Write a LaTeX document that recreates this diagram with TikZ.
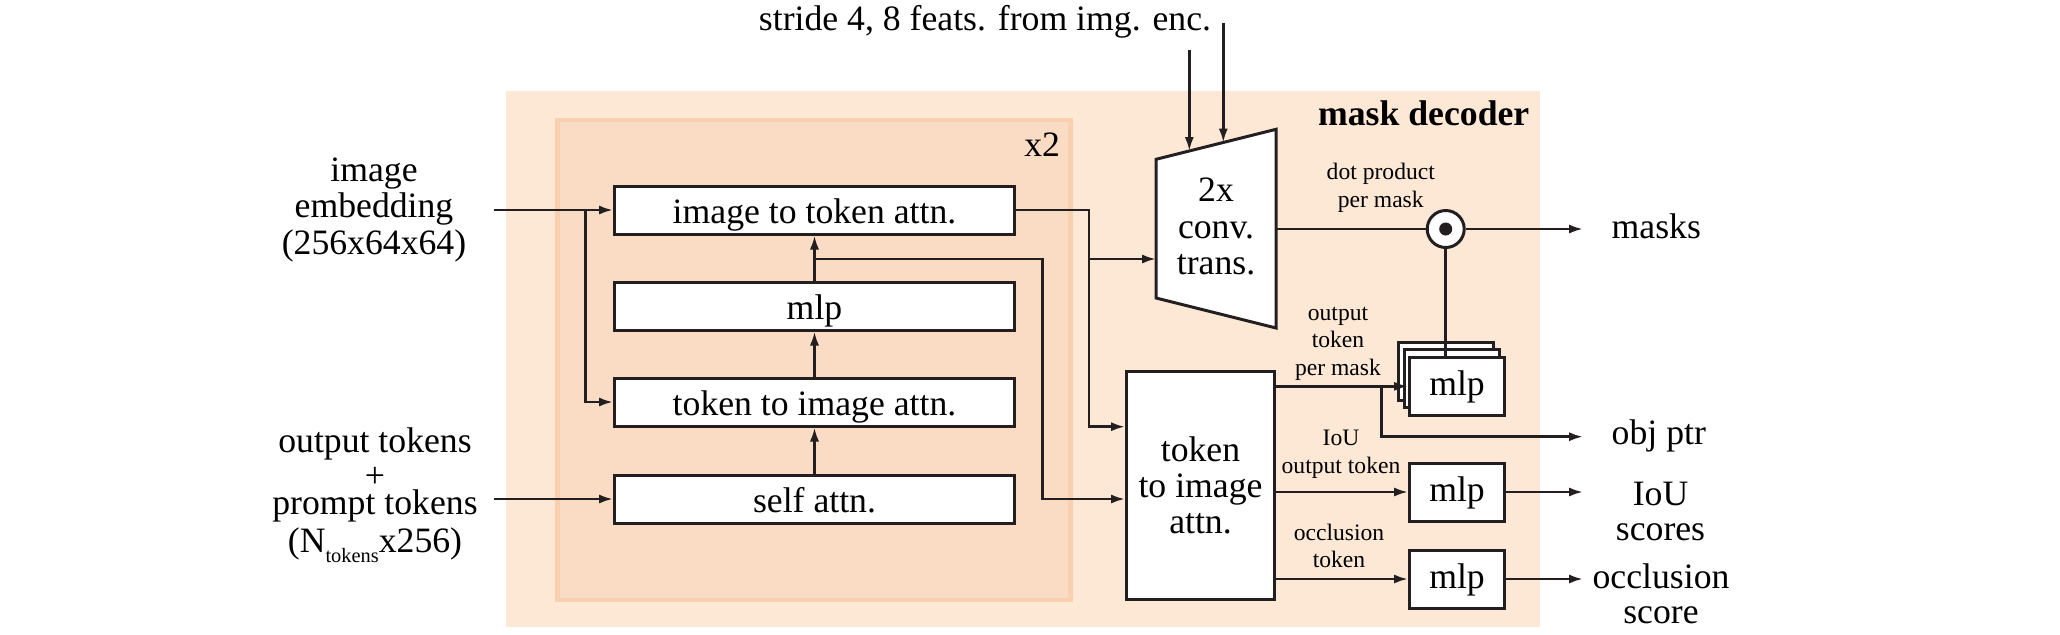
\documentclass[tikz,border=0pt]{standalone}
\usepackage{fontspec}
\setmainfont{Liberation Serif}
\usetikzlibrary{arrows.meta,calc}
\definecolor{lc}{HTML}{231F20}
\definecolor{outerfill}{HTML}{FDE8D6}
\definecolor{innerfill}{HTML}{FADCC4}
\definecolor{innerline}{HTML}{F8D0B0}
\newcommand{\mlines}[1]{\begin{tabular}[t]{@{}c@{}}#1\end{tabular}}
\begin{document}
\begin{tikzpicture}[x=0.5pt,y=-0.5pt,
  bigfont/.style={font=\fontsize{17.85}{18.4}\selectfont},
  smallfont/.style={font=\fontsize{11.8}{13.9}\selectfont},
  lbl/.style={inner sep=0pt, outer sep=0pt},
  blk/.style={draw=lc, line width=1.5pt, fill=white, inner sep=0pt},
  stagebox/.style={blk, bigfont, minimum width=200pt, minimum height=24pt, text height=13pt, text depth=0pt},
  mlpbox/.style={blk, bigfont, minimum width=47.5pt, minimum height=29pt, text height=9pt, text depth=0pt},
  conn/.style={draw=lc, line width=1.3pt},
  arr/.style={conn, -{Latex[length=7pt,width=4.6pt]}},
]
\useasboundingbox (0,0) rectangle (2060,634);

% backgrounds
\fill[outerfill] (506,91) rectangle (1540,627.3);
\draw[innerline, fill=innerfill, line width=2.25pt] (557.3,120) rectangle (1070.7,600);

% labels of backgrounds
\node[lbl, bigfont, anchor=base east] (xtwo) at (1060,156) {x2};
\node[lbl, bigfont, anchor=base east] (mdec) at (1529.3,125) {\bfseries mask decoder};

% loop stages
\node[stagebox] (itt) at (814.5,210) {image to token attn.};
\node[stagebox] (mlp) at (814.5,306) {mlp};
\node[stagebox] (tti) at (814.5,402) {token to image attn.};
\node[stagebox] (self) at (814.5,499) {self attn.};

% inputs
\node[lbl, bigfont, anchor=base] (emb) at (374,181) {\mlines{image\\embedding\\(256x64x64)}};
\node[lbl, bigfont, anchor=base] (tok) at (375,452.7) {\mlines{output tokens\\[-1.25pt]+\\[-4.9pt]prompt tokens\\[0.6pt](N\raisebox{-5pt}{\fontsize{10.2}{11}\selectfont tokens}x256)}};
\coordinate (in1) at (494,210);
\coordinate (in2) at (494,499);

% top text
\node[lbl, bigfont, anchor=base] (stride) at (985,30) {stride 4, 8 feats. from img. enc.};
\coordinate (s1) at (1189.3,50);
\coordinate (s2) at (1223.3,22.7);

% transposed conv trapezoid
\coordinate (trTL) at (1156,159.3);
\coordinate (trTR) at (1276,129.3);
\coordinate (trBR) at (1276,328);
\coordinate (trBL) at (1156,298);
\draw[blk] (trTL) -- (trTR) -- (trBR) -- (trBL) -- cycle;
\node[lbl, bigfont, align=center] (conv) at (1216,226.5) {2x\\conv.\\trans.};
\coordinate (convin) at (1156,259);
\coordinate (convout) at (1276,229);
\coordinate (convt1) at (1189.3,151);
\coordinate (convt2) at (1223.3,142.5);

% big token to image attention
\node[blk, bigfont, align=center, minimum width=74pt, minimum height=114pt, font=\fontsize{17.85}{18}\selectfont] (big) at (1200.5,485) {token\\to image\\attn.};

% dot product
\node[draw=lc, line width=1.5pt, circle, fill=white, minimum size=18.5pt, inner sep=0pt] (dot) at (1445.7,229) {};
\node[circle, fill=lc, minimum size=6.5pt, inner sep=0pt] (dotc) at (dot.center) {};

% mlp heads
\node[mlpbox] (mlpb) at (1445.8,371.2) {};
\node[mlpbox] (mlpm) at (1451.5,378) {};
\node[mlpbox] (mlpf) at (1457,386.3) {mlp};
\node[mlpbox] (iou) at (1457,492) {mlp};
\node[mlpbox] (occ) at (1457,579) {mlp};

% small labels
\node[lbl, smallfont, anchor=base] (dpl) at (1380.8,179.3) {\mlines{dot product\\per mask}};
\node[lbl, smallfont, anchor=base] (otl) at (1338,320) {\mlines{output\\token\\per mask}};
\node[lbl, smallfont, anchor=base] (ioul) at (1341,445.7) {\mlines{IoU\\output token}};
\node[lbl, smallfont, anchor=base] (occl) at (1339,540) {\mlines{occlusion\\token}};

% output labels
\node[lbl, bigfont, anchor=base west] (masks) at (1611.7,238.3) {masks};
\node[lbl, bigfont, anchor=base west] (objptr) at (1611.7,444) {obj ptr};
\node[lbl, bigfont, anchor=base, font=\fontsize{17.85}{17.5}\selectfont] (ious) at (1660.5,505) {\mlines{IoU\\scores}};
\node[lbl, bigfont, anchor=base, font=\fontsize{17.85}{17.5}\selectfont] (occs) at (1661,588) {\mlines{occlusion\\score}};
\coordinate (masksend) at (1583,229);
\coordinate (objend) at (1583,436.7);
\coordinate (iouend) at (1583,492);
\coordinate (occend) at (1583,579);

% connectors: loop
\coordinate (j1) at (585.7,210);
\coordinate (j2) at (814.5,259);
\coordinate (k2) at (1042.7,259);
\coordinate (k1) at (1089,210);
\coordinate (k3) at (1089,426.7);
\coordinate (k4) at (1089,259);
\draw[arr] (in1) -- (itt.west);
\draw[arr] (in2) -- (self.west);
\draw[arr] (j1) |- (tti.west);
\draw[arr] (self.north) -- (tti.south);
\draw[arr] (tti.north) -- (mlp.south);
\draw[arr] (mlp.north) -- (itt.south);
\draw[arr] (j2) -- (k2) |- (big.west |- self.east);
\draw[arr] (itt.east) -| (k3) -- (big.west |- k3);
\draw[arr] (k4) -- (convin);
\draw[arr] (s1) -- (convt1);
\draw[arr] (s2) -- (convt2);

% connectors: outputs
\draw[conn] (convout) -- (dot.west);
\draw[arr] (dot.east) -- (masksend);
\draw[conn] (dot.south) -- (dot.south |- mlpf.north);
\draw[arr] (big.east |- mlpf.west) -- (mlpf.west);
\coordinate (j5) at (1381.7,386.3);
\draw[arr] (j5) |- (objend);
\draw[arr] (big.east |- iou.west) -- (iou.west);
\draw[arr] (iou.east) -- (iouend);
\draw[arr] (big.east |- occ.west) -- (occ.west);
\draw[arr] (occ.east) -- (occend);
\end{tikzpicture}
\end{document}
